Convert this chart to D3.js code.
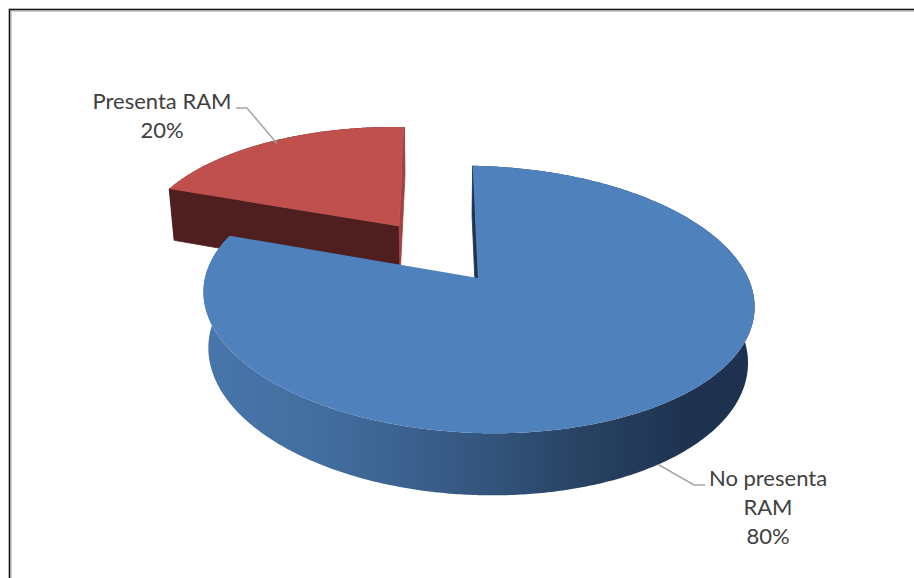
<!DOCTYPE html>
<html><head><meta charset="utf-8">
<script src="https://cdn.jsdelivr.net/npm/d3@7"></script>
<style>html,body{margin:0;padding:0;background:#fff;overflow:hidden}</style>
</head><body>
<svg id="chart" width="914" height="578"></svg>
<script>
// ---- data ----
const categories = ["No presenta RAM", "Presenta RAM"];
const values = [80, 20];
const nameLines = [["No presenta", "RAM"], ["Presenta RAM"]];

// ---- style / layout ----
const topColors = ["#4f81bd", "#c0504d"];
const startFaceColors = ["#1f3350", "#4e1f1e"];
const endFaceColors = ["#1f3350", "#a2423f"];
const sideColors = ["url(#blueSide)", "#4e1f1e"];
const explode = [0, 0.51];
const labelPos = [{x: 768, y: 486, lx: 705}, {x: 162, y: 109, lx: 236}];
const anchorSpec = [{a: 145, r: 1.0, bottom: true}, {a: 325, r: 0.97, bottom: false}];

const svg = d3.select("#chart");

// frame
svg.append("rect").attr("x", 9.5).attr("y", 9.5).attr("width", 940).attr("height", 620)
  .attr("fill", "none").attr("stroke", "#111").attr("stroke-width", 1.6);
svg.append("rect").attr("x", 11).attr("y", 11).attr("width", 940).attr("height", 620)
  .attr("fill", "none").attr("stroke", "#9a9a9a").attr("stroke-width", 1);

// ---- 3D projection (off-axis camera) ----
const F = 1486, K = 0.183, T = 0.0434, phi = 28.6 * Math.PI / 180;
const cx = 478, cy = 278, shB = 0.016, camX = -0.026;
const rScale = d3.scaleLinear().domain([0, 1]).range([0, K]);
function proj(X, Y, Z) {
  const xc = X - camX, yc = Y * Math.cos(phi) + Z * Math.sin(phi), zc = 1 + Z * Math.cos(phi) - Y * Math.sin(phi);
  const px = F * xc / zc + F * camX, py = -F * yc / zc;
  return [cx + px, cy + py + shB * px];
}
const camZ = -Math.cos(phi);

const pie = d3.pie().sort(null).value(d => d)(values);
const line = d3.line();

const defs = svg.append("defs");
const xl = proj(-K, 0, 0)[0], xr = proj(K, 0, 0)[0];
const g = defs.append("linearGradient").attr("id", "blueSide").attr("gradientUnits", "userSpaceOnUse")
  .attr("x1", xl).attr("x2", xr).attr("y1", 0).attr("y2", 0);
[[0, "#4876ab"], [0.25, "#416b9c"], [0.5, "#34567f"], [0.72, "#26405f"], [0.88, "#1f3351"], [1, "#1e3150"]]
  .forEach(([o, c]) => g.append("stop").attr("offset", o).attr("stop-color", c));

const slices = pie.map((p, i) => {
  const mid = (p.startAngle + p.endAngle) / 2;
  const e = rScale(explode[i]);
  return {i, p, ox: e * Math.sin(mid), oz: e * Math.cos(mid)};
});
slices.sort((a, b) => b.oz - a.oz);

function pt(s, a, r, Y) {
  const R = rScale(r);
  return proj(s.ox + R * Math.sin(a), Y, s.oz + R * Math.cos(a));
}
function arcPts(s, a0, a1, Y) {
  const n = Math.max(8, Math.ceil(Math.abs(a1 - a0) / 0.01));
  return d3.range(n + 1).map(j => pt(s, a0 + (a1 - a0) * j / n, 1, Y));
}
function faceVisible(s, a, normalAngle) {
  const R = rScale(1) * 0.5;
  const Px = s.ox + R * Math.sin(a), Pz = s.oz + R * Math.cos(a);
  return Math.sin(normalAngle) * (camX - Px) + Math.cos(normalAngle) * (camZ - Pz) > -1e-9;
}

const gPie = svg.append("g");
slices.forEach(s => {
  const {p, i} = s;
  const a0 = p.startAngle, a1 = p.endAngle;
  const side = arcPts(s, a0, a1, 0).concat(arcPts(s, a1, a0, -T));
  gPie.append("path").attr("d", line(side) + "Z").attr("fill", sideColors[i]);
  const faces = [[a0, a0 - Math.PI / 2, startFaceColors[i]], [a1, a1 + Math.PI / 2, endFaceColors[i]]];
  faces.forEach(([a, na, col]) => {
    if (!faceVisible(s, a, na)) return;
    const poly = [pt(s, a, 0, 0), pt(s, a, 1, 0), pt(s, a, 1, -T), pt(s, a, 0, -T)];
    gPie.append("path").attr("d", line(poly) + "Z").attr("fill", col)
      .attr("stroke", col).attr("stroke-width", 0.8).attr("stroke-linejoin", "round");
  });
  const top = [pt(s, a0, 0, 0)].concat(arcPts(s, a0, a1, 0));
  gPie.append("path").attr("d", line(top) + "Z").attr("fill", topColors[i]);
});

// ---- labels ----
const total = d3.sum(values);
const fmt = d3.format(".0%");
const sById = {};
slices.forEach(s => sById[s.i] = s);
pie.forEach((p, i) => {
  const s = sById[i];
  const lp = labelPos[i];
  const lines = nameLines[i].concat([fmt(values[i] / total)]);
  const txt = svg.append("text").attr("font-family", "Lato, 'Open Sans', sans-serif")
    .attr("font-size", 22).attr("fill", "#404040").attr("text-anchor", "middle");
  lines.forEach((l, j) => txt.append("tspan").attr("x", lp.x).attr("y", lp.y + j * 29).text(l));
  const as = anchorSpec[i];
  const anc = pt(s, as.a * Math.PI / 180, as.r, as.bottom ? -T : 0);
  const ly = lp.y - 1;
  const dir = lp.lx > anc[0] ? 1 : -1;
  const knee = [lp.lx - dir * 11, ly];
  svg.append("path").attr("d", line([[lp.lx, ly], knee, anc])).attr("fill", "none")
    .attr("stroke", "#a6a6a6").attr("stroke-width", 1.5);
});
</script>
</body></html>
